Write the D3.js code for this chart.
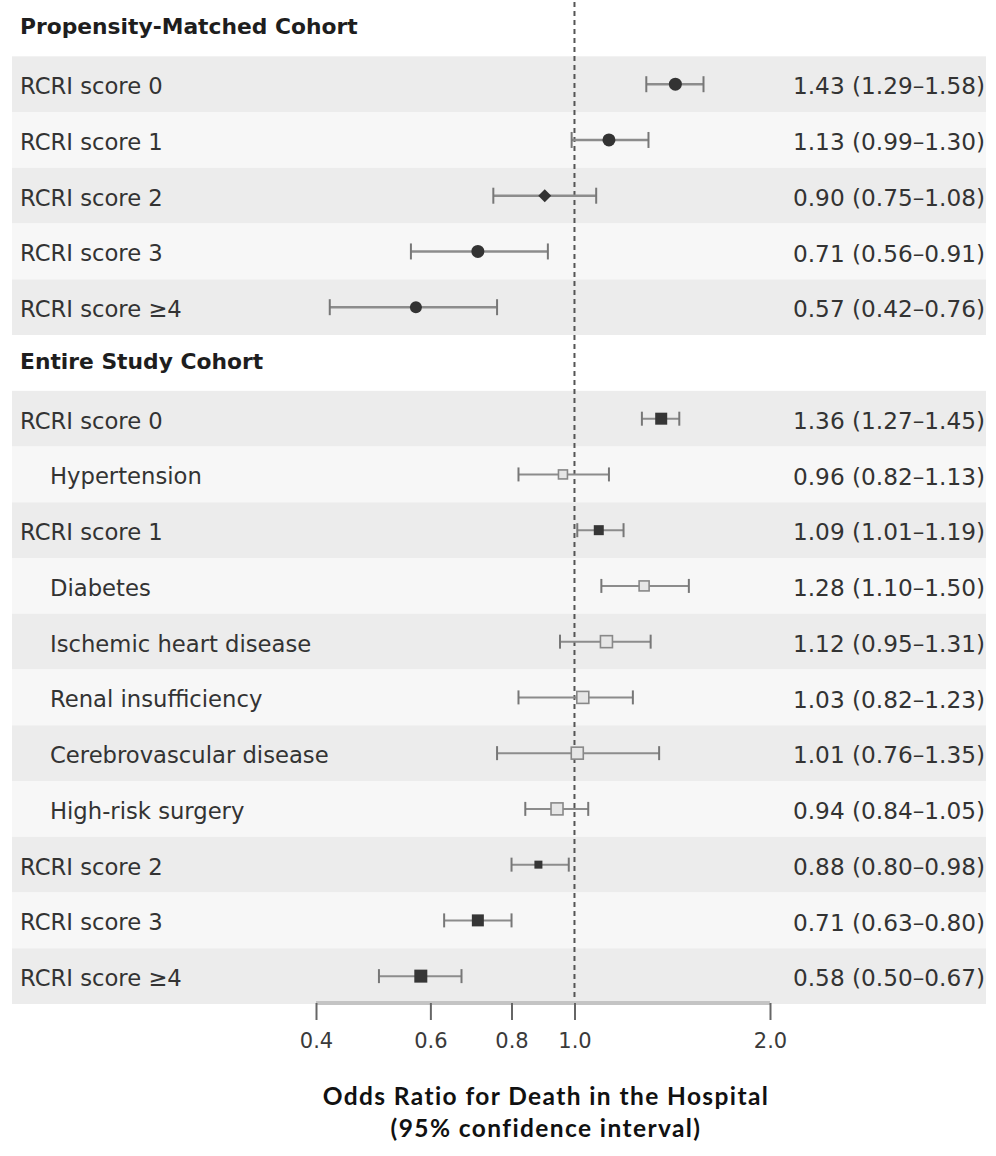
<!DOCTYPE html>
<html>
<head>
<meta charset="utf-8">
<script src="https://cdn.jsdelivr.net/npm/d3@7"></script>
<style>
  html, body { margin: 0; padding: 0; background: #ffffff; }
  svg { display: block; }
</style>
</head>
<body>
<svg id="chart" width="996" height="1156"></svg>
<script>
// ---------------- DATA ----------------
const sectionTitles = ["Propensity-Matched Cohort", "Entire Study Cohort"];

const pmLabels = ["RCRI score 0", "RCRI score 1", "RCRI score 2", "RCRI score 3", "RCRI score \u22654"];
const pmOR   = [1.43, 1.13, 0.90, 0.71, 0.57];
const pmLow  = [1.29, 0.99, 0.75, 0.56, 0.42];
const pmHigh = [1.58, 1.30, 1.08, 0.91, 0.76];

const esLabels = ["RCRI score 0", "Hypertension", "RCRI score 1", "Diabetes",
  "Ischemic heart disease", "Renal insufficiency", "Cerebrovascular disease",
  "High-risk surgery", "RCRI score 2", "RCRI score 3", "RCRI score \u22654"];
const esOR   = [1.36, 0.96, 1.09, 1.28, 1.12, 1.03, 1.01, 0.94, 0.88, 0.71, 0.58];
const esLow  = [1.27, 0.82, 1.01, 1.10, 0.95, 0.82, 0.76, 0.84, 0.80, 0.63, 0.50];
const esHigh = [1.45, 1.13, 1.19, 1.50, 1.31, 1.23, 1.35, 1.05, 0.98, 0.80, 0.67];
// row kind: "score" = RCRI score (filled marker), "factor" = individual risk factor (open marker, indented)
const esKind = ["score", "factor", "score", "factor", "factor", "factor", "factor", "factor", "score", "score", "score"];

const tickValues = [0.4, 0.6, 0.8, 1.0, 2.0];
const tickLabels = ["0.4", "0.6", "0.8", "1.0", "2.0"];
const axisTitle = ["Odds Ratio for Death in the Hospital", "(95% confidence interval)"];

// ---------------- STYLE (marker sizes, px) ----------------
const pmMarkerRadius = [6.5, 6.5, 6.5, 6.5, 6];
const pmMarkerShape  = ["circle", "circle", "diamond", "circle", "circle"];
const esMarkerSide   = [12, 9, 10, 10, 12, 12, 12, 12, 8, 12, 13];

// ---------------- BUILD ROWS ----------------
const rows = [];
rows.push({ type: "header", label: sectionTitles[0] });
pmLabels.forEach((l, i) => rows.push({ type: "pm", label: l, or: pmOR[i], lo: pmLow[i], hi: pmHigh[i], i }));
rows.push({ type: "header", label: sectionTitles[1] });
esLabels.forEach((l, i) => rows.push({ type: "es", label: l, or: esOR[i], lo: esLow[i], hi: esHigh[i], kind: esKind[i], i }));

const svg = d3.select("#chart");
const FONT = "'DejaVu Sans', sans-serif";

const x = d3.scaleLog().domain([0.4, 2.0]).range([316, 770]);
const y = d3.scaleBand().domain(d3.range(rows.length)).range([0.6, 1004]).paddingInner(0).paddingOuter(0);
const yc = i => y(i) + y.bandwidth() / 2;

// Bands
svg.append("g").selectAll("rect").data(rows).join("rect")
  .attr("x", 12).attr("width", 974)
  .attr("y", (d, i) => y(i)).attr("height", y.bandwidth())
  .attr("fill", (d, i) => d.type === "header" ? "#ffffff" : (i % 2 === 1 ? "#ececec" : "#f7f7f7"));

// Reference dashed line at 1.0
svg.append("line")
  .attr("x1", x(1)).attr("x2", x(1)).attr("y1", 2).attr("y2", 1003)
  .attr("stroke", "#555").attr("stroke-width", 2).attr("stroke-dasharray", "5,4");

// Axis
const axisG = svg.append("g").attr("transform", "translate(0,1003)")
  .call(d3.axisBottom(x).tickValues(tickValues).tickFormat((d, i) => tickLabels[i]).tickSize(17).tickPadding(13));
axisG.select(".domain").attr("stroke", "#c4c4c4").attr("stroke-width", 4).attr("d", `M${x(0.4)},0H${x(2.0)}`);
axisG.selectAll(".tick line").attr("stroke", "#666").attr("stroke-width", 2);
axisG.selectAll(".tick text").attr("font-family", FONT).attr("font-size", 21).attr("fill", "#3a3a3a");

// Row labels
const fmt = d3.format(".2f");
const labelG = svg.append("g");
rows.forEach((r, i) => {
  if (r.type === "header") {
    labelG.append("text").attr("x", 20).attr("y", yc(i) - 2).attr("dy", "0.35em")
      .attr("font-family", FONT).attr("font-weight", "bold").attr("font-size", 21.8)
      .attr("fill", "#1e1e1e").text(r.label);
  } else {
    const indent = r.kind === "factor" ? 50 : 20;
    labelG.append("text").attr("x", indent).attr("y", yc(i) + 2).attr("dy", "0.35em")
      .attr("font-family", FONT).attr("font-size", 22.7).attr("fill", "#333")
      .text(r.label);
    labelG.append("text").attr("x", 793).attr("y", yc(i) + 2).attr("dy", "0.35em")
      .attr("font-family", FONT).attr("font-size", 23.2).attr("fill", "#333")
      .text(`${fmt(r.or)} (${fmt(r.lo)}\u2013${fmt(r.hi)})`);
  }
});

// CIs
const ciRows = rows.map((r, i) => ({ ...r, row: i })).filter(r => r.type !== "header");
const ciG = svg.append("g");
ciG.selectAll("line.ci").data(ciRows).join("line").attr("class", "ci")
  .attr("x1", d => x(d.lo)).attr("x2", d => x(d.hi))
  .attr("y1", d => yc(d.row)).attr("y2", d => yc(d.row))
  .attr("stroke", "#8c8c8c").attr("stroke-width", d => d.type === "pm" ? 2.5 : 2);
["lo", "hi"].forEach(k => {
  ciG.selectAll("line.cap" + k).data(ciRows).join("line").attr("class", "cap" + k)
    .attr("x1", d => x(d[k])).attr("x2", d => x(d[k]))
    .attr("y1", d => yc(d.row) - (d.type === "pm" ? 8 : 7)).attr("y2", d => yc(d.row) + (d.type === "pm" ? 8 : 7))
    .attr("stroke", "#777").attr("stroke-width", 2);
});

// Markers
const mG = svg.append("g");
ciRows.forEach(d => {
  const cx = x(d.or), cy = yc(d.row);
  if (d.type === "pm") {
    const r = pmMarkerRadius[d.i];
    if (pmMarkerShape[d.i] === "diamond") {
      mG.append("path").attr("d", `M${cx},${cy - r}L${cx + r},${cy}L${cx},${cy + r}L${cx - r},${cy}Z`)
        .attr("fill", "#333");
    } else {
      mG.append("circle").attr("cx", cx).attr("cy", cy).attr("r", r).attr("fill", "#333");
    }
  } else {
    const s = esMarkerSide[d.i];
    if (d.kind === "score") {
      mG.append("rect").attr("x", cx - s / 2).attr("y", cy - s / 2).attr("width", s).attr("height", s)
        .attr("fill", "#363636");
    } else {
      mG.append("rect").attr("x", cx - s / 2).attr("y", cy - s / 2).attr("width", s).attr("height", s)
        .attr("fill", "#e6e6e6").attr("stroke", "#888").attr("stroke-width", 1.6);
    }
  }
});

// Axis title
axisTitle.forEach((t, k) => {
  svg.append("text").attr("x", 546).attr("y", 1105 + k * 32).attr("text-anchor", "middle")
    .attr("font-family", "Lato, 'Noto Sans', sans-serif").attr("font-weight", "bold").attr("font-size", 24.5)
    .attr("letter-spacing", 1.4)
    .attr("fill", "#111").text(t);
});
</script>
</body>
</html>
